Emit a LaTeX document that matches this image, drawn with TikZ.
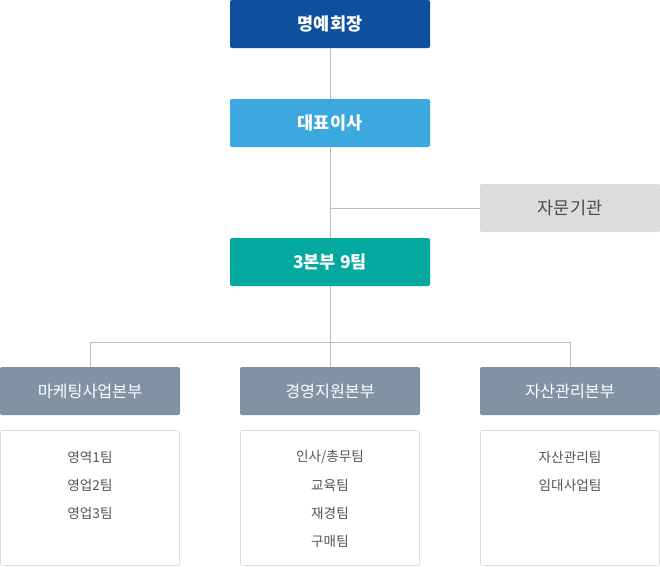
\documentclass[tikz,border=0pt]{standalone}
\usepackage{fontspec}
\setmainfont{Noto Sans CJK KR}
\definecolor{cTop}{HTML}{0E4FA0}
\definecolor{cCeo}{HTML}{3BA9DF}
\definecolor{cAdv}{HTML}{DCDCDC}
\definecolor{cAdvText}{HTML}{4A4A4A}
\definecolor{cHq}{HTML}{03A89E}
\definecolor{cDiv}{HTML}{8093A5}
\definecolor{cLine}{HTML}{BBBBBB}
\definecolor{cBorder}{HTML}{DDDDDD}
\definecolor{cTeam}{HTML}{555555}
\begin{document}
\begin{tikzpicture}[x=1pt,y=-1pt,
  topbox/.style={rectangle,rounded corners=2pt,minimum width=200pt,minimum height=48pt,inner sep=0pt,text=white,font=\fontsize{17.5}{20}\selectfont\bfseries},
  advbox/.style={rectangle,rounded corners=2pt,fill=cAdv,minimum width=180pt,minimum height=48pt,inner sep=0pt,text=cAdvText,font=\fontsize{17.5}{20}\selectfont},
  divbox/.style={rectangle,rounded corners=2pt,fill=cDiv,minimum width=180pt,minimum height=48pt,inner sep=0pt,text=white,font=\fontsize{16.2}{19}\selectfont},
  teambox/.style={rectangle,rounded corners=2pt,draw=cBorder,line width=0.8pt,minimum width=179pt,minimum height=135pt,inner sep=0pt},
  teamtext/.style={text=cTeam,font=\fontsize{13.6}{16}\selectfont,inner sep=0pt},
  conn/.style={draw=cLine,line width=1pt}
]
\useasboundingbox (0,0) rectangle (660,566);
\node[topbox,fill=cTop] (chair) at (330,24) {명예회장};
\node[topbox,fill=cCeo] (ceo) at (330,123) {대표이사};
\node[advbox] (adv) at (570,208) {자문기관};
\node[topbox,fill=cHq] (hq) at (330,262) {3본부 9팀};
\node[divbox] (d1) at (90,391) {마케팅사업본부};
\node[divbox] (d2) at (330,391) {경영지원본부};
\node[divbox] (d3) at (570,391) {자산관리본부};
\node[teambox] (t1) at (90,498) {};
\node[teambox] (t2) at (330,498) {};
\node[teambox] (t3) at (570,498) {};
\coordinate (j1) at (330,208);
\coordinate (j2) at (330,342);
\coordinate (jl) at (90,342);
\coordinate (jr) at (570,342);
\draw[conn] (chair.south) -- (ceo.north);
\draw[conn] (ceo.south) -- (hq.north);
\draw[conn] (j1) -- (adv.west);
\draw[conn] (hq.south) -- (j2);
\draw[conn] (jl) -- (jr);
\draw[conn] (jl) -- (d1.north);
\draw[conn] (j2) -- (d2.north);
\draw[conn] (jr) -- (d3.north);
\node[teamtext] (a1) at (90,457) {영역1팀};
\node[teamtext] (a2) at (90,485) {영업2팀};
\node[teamtext] (a3) at (90,513) {영업3팀};
\node[teamtext] (b1) at (330,457) {인사/총무팀};
\node[teamtext] (b2) at (330,485) {교육팀};
\node[teamtext] (b3) at (330,513) {재경팀};
\node[teamtext] (b4) at (330,541) {구매팀};
\node[teamtext] (c1) at (570,457) {자산관리팀};
\node[teamtext] (c2) at (570,485) {임대사업팀};
\end{tikzpicture}
\end{document}
